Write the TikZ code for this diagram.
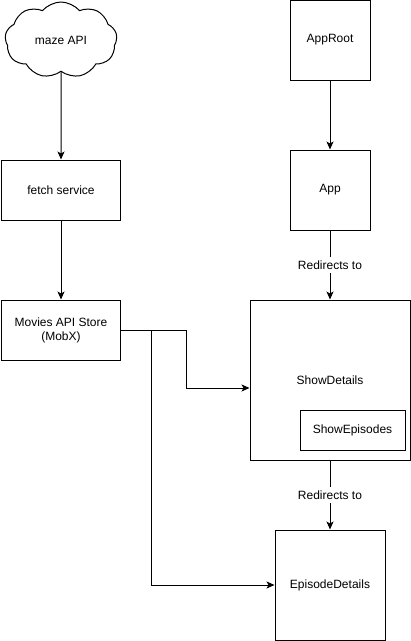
\documentclass[tikz,border=0pt]{standalone}
\usepackage{fontspec}
\setmainfont{Liberation Sans}
\usetikzlibrary{arrows.meta,shapes.symbols,positioning}

\begin{document}
\begin{tikzpicture}[x=1pt,y=-1pt,->,>={Stealth[length=8pt,width=7pt,inset=2pt]},line width=1pt,
                    main node/.style={rectangle, draw, align=center, font=\fontsize{12}{14}\selectfont},
                    cloud node/.style={cloud, draw, cloud puffs=9, cloud puff arc=100, aspect=1.5,
                                       minimum width=112pt, minimum height=76pt, font=\fontsize{12}{14}\selectfont}]
  \useasboundingbox (0,0) rectangle (411,641);

  %Left column%
  \node[cloud node] (api) at (61,40) {maze API};
  \node[main node, minimum width=119pt, minimum height=60pt] (fetch) [below of=api, node distance=150pt] {fetch service};
  \node[main node, minimum width=119pt, minimum height=60pt] (store) [below of=fetch, node distance=140pt] {Movies API Store\\(MobX)};

  %Right column%
  \node[main node, minimum size=80pt] (approot) at (330,40) {AppRoot};
  \node[main node, minimum size=80pt] (app) [below of=approot, node distance=150pt] {App};
  \node[main node, minimum size=160pt] (showdet) [below of=app, node distance=190pt] {ShowDetails};
  \node[main node, minimum width=105pt, minimum height=40pt] (showep) at (352.5,430) {ShowEpisodes};
  \node[main node, minimum size=110pt] (epdet) [below of=showdet, node distance=205pt] {EpisodeDetails};

  \path[every node/.style={fill=white, font=\fontsize{12}{14}\selectfont}]
    (api) edge (fetch)
    (fetch) edge (store)
    (approot) edge (app)
    (app) edge node {Redirects to} (showdet)
    (showdet) edge node {Redirects to} (epdet);

  %Store links%
  \draw (store.east) -- ++(65,0) |- ([yshift=-8pt]showdet.west);
  \draw (store.east) -- ++(30,0) |- (epdet.west);
\end{tikzpicture}
\end{document}
